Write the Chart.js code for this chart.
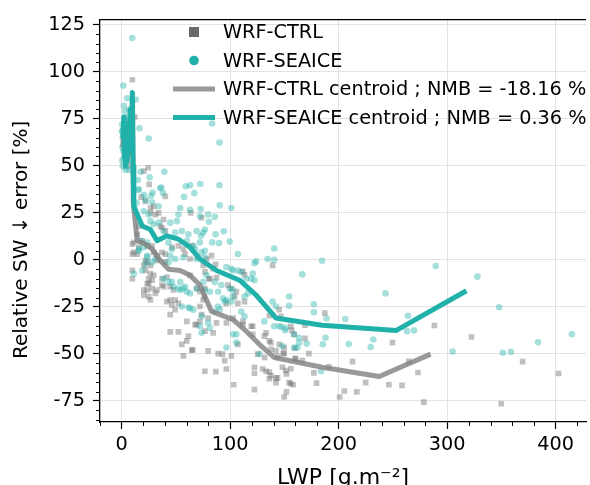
<!DOCTYPE html>
<html>
<head>
<meta charset="utf-8">
<script src="https://cdn.jsdelivr.net/npm/chart.js@4.4.1/dist/chart.umd.min.js"></script>
<style>
  html, body { margin: 0; padding: 0; background: #fff; }
  #wrap { width: 590px; height: 485px; }
</style>
</head>
<body>
<div id="wrap"><canvas id="chart" width="590" height="485"></canvas></div>
<script>
// WRF-CTRL scatter (LWP in g.m-2, relative SW error in %)
const ctrlLwp = [9.8, 12.1, 20.4, 24.4, 25.3, 18, 40.2, 29.5, 34.1, 38.6, 63.6, 14.3, 18.9, 37.2, 40.2, 11.2, 15.8, 11.2, 9.8, 29.5,
  32.6, 21.9, 56.9, 58.4, 63, 21.9, 26.5, 26.5, 31, 35.6, 15.8, 9.8, 14.3, 23.5, 28, 37.2, 40.2, 46.3, 52.3, 64.6,
  32.6, 40.2, 20.4, 23.5, 21.9, 26.5, 9.8, 9.8, 26.5, 29.5, 24.9, 28, 24.9, 20.4, 23.5, 20.4, 24.9, 37.2, 44.7, 47.8,
  41.7, 44.7, 49.3, 41.7, 46.3, 52.3, 44.7, 49.3, 60, 69.1, 44.7, 52.3, 55.4, 60, 56.9, 65.5, 76.7, 86.8, 96.5, 79.7,
  88.9, 92.9, 101.1, 95, 103.2, 76.7, 84.3, 87.4, 96.5, 102.6, 111.7, 120.8, 75.2, 72.1, 81.3, 76.7, 63, 101.1, 105.7, 111.7,
  113.2, 120.8, 133.1, 136.1, 137.6, 142.2, 122.4, 122.4, 130, 136.1, 137.6, 142.2, 148.2, 154.3, 149.8, 122.4, 139.1, 145.2, 23.5, 28,
  32.6, 31, 26.5, 37.2, 38.6, 72.1, 61.5, 64.6, 107.1, 133.1, 136.1, 143.7, 142.2, 151.3, 155.9, 151.9, 155.9, 158, 151.9, 131.8,
  149.8, 159.8, 172.6, 190.9, 177.2, 179.6, 200.9, 205.2, 216.7, 224.9, 212.8, 246.3, 249.6, 187.2, 155.9, 156.8, 168.9, 168.9, 159.8, 148.9,
  145.2, 258.4, 273.1, 264.6, 278.5, 288.3, 322.4, 349.8, 369.6, 402.7, 70, 78.3, 75.2, 84.3, 86.5, 87.4, 80.4, 69.1, 76.7, 76.1,
  72.1, 73.7, 79.7, 98, 104.1, 96.5, 107.1, 113.2, 136.1, 146.8, 111.7, 119.4, 131.5, 137.6, 149.8, 158.9, 125.4, 143.7, 160.5, 166.5,
  67.6, 73.7, 82.8, 5, 7, 3, 8];
const ctrlErr = [95.8, 76, 47.2, 49, 40.2, 33.4, 33.8, 28.5, 25, 21.5, 25, 13.6, 10.2, 17.1, 15.4, 9.3, 6.7, 4, 3.1, 4,
  2.3, -0.3, 5.8, 3.1, 0.5, 31.1, 27.6, 25, 24.1, 18, 18, 8.4, 3.1, 7.5, 7.5, 4, 3.1, 6.7, 7.5, 7.5,
  -0.3, -1.2, -2.9, -1.2, -5.6, -2.9, -5.6, -10, -7.3, -8.2, -10, -10.8, -12.6, -16, -16, -18.7, -19.5, -13.4, -14.3, -16,
  -9.1, -21.3, -21.3, -22.2, -23.9, -23.1, -29.1, -26.5, -32.7, -34.4, -38.3, -38.3, -44.9, -43.1, -51, -47.9, -59.2, -59.4, -58, -48.4,
  -49.8, -50.1, -51, -53.6, -66.4, -37.9, -38.8, -33.5, -33.5, -30.9, -32.7, -35.3, -21.3, -16.9, -10, -6.4, -8.2, -15.2, -16.9, -6.1,
  -7.9, -39.6, -38.8, -43.1, -47.5, -48.4, -57.1, -60.3, -58, -59.7, -61.5, -62.9, -57.1, -65.3, -72.9, -69, -2.9, -26.5, -12.6, -15.2,
  -16, -17.8, -21.3, -10, -14.3, -32.7, -40.5, -48, -44.9, -59.2, -63.2, -62.7, -65.3, -58.8, -57.9, -60.6, -65.8, -66.4, -70.2, -51.9,
  -49.8, -52.4, -49.8, -56.8, -60.1, -65.5, -72.9, -69.7, -70.2, -65.3, -54.1, -66.4, -44, -28.3, -35.3, -37.5, -34.7, -41.7, -47, -49.6,
  -44.9, -66.7, -59.9, -54, -75.6, -34.9, -41, -76.5, -54.1, -60.4, 1.4, 0.5, -2.9, -4.7, -2.4, -9.4, -10, -15.2, -15.2, -19.5,
  -24.8, -29.1, -30.9, -13.4, -19.5, -23.1, -23.1, -22.2, -29.7, -30, -34.4, -35.3, -40.5, -44, -46.6, -39.6, -50.1, -51.4, -52.7, -53.6,
  -34.4, 22.4, 2.3, 62, 70, 55, 50];

// WRF-SEAICE scatter
const seaLwp = [9.8, 1.5, 3, 16.4, 24.9, 83.4, 90.1, 39.3, 14.9, 15.2, 36.5, 59.1, 63, 72.4, 90.1, 67, 57.5, 28.6, 27.1, 38.1,
  21.9, 2.7, 3.7, 0.9, 12.8, 0.3, 0.6, 0.6, 3.7, 17.4, 25.8, 35.6, 15.8, 20.4, 13.7, 28, 34.1, 20.4, 24.9, 53.9,
  52.3, 63, 72.1, 79.7, 26.5, 29.5, 34.1, 44.7, 50.9, 38.6, 49.3, 55.4, 61.5, 69.1, 75.2, 17.4, 23.5, 43.2, 46.3, 60,
  66, 72.1, 76.7, 15.8, 23.5, 44.7, 49.3, 56.9, 69.1, 90.4, 101.1, 72.8, 85.8, 80.4, 76.7, 73.1, 86.5, 94.1, 83.4, 89.8,
  99.5, 107.1, 140.6, 67.6, 73.7, 76.7, 123.9, 134.5, 140.6, 96.5, 102.6, 110.2, 120.8, 119.4, 85.8, 91.9, 99.5, 78.3, 75.2, 69.1,
  76.7, 81.3, 93.4, 95, 102.6, 88.9, 79.7, 81.3, 102.6, 105.7, 96.5, 66, 61.5, 55.4, 60, 63, 52.3, 56.9, 46.3, 53.9,
  38.6, 43.2, 11.2, 18.9, 21.9, 23.5, 28, 31, 15.8, 20.4, 126.9, 105.7, 140.6, 145.2, 131.5, 148.2, 142.2, 122.4, 101.1, 107.1,
  122.4, 114.8, 166.5, 88.9, 102.6, 96.5, 101.1, 113.2, 116.3, 139.1, 154.3, 154.3, 110.2, 113.2, 147.3, 151.3, 158.9, 163.5, 158.9, 73.7,
  72.1, 85.8, 90.4, 184.7, 177.2, 177.2, 188.8, 206.1, 243.2, 263.9, 263, 269.4, 232, 229.5, 209.4, 187.9, 185.4, 170.5, 163.5, 161.9,
  150.7, 183.8, 289.5, 327.9, 347.9, 305, 351.3, 358.9, 383.8, 414.9, 47.8, 53.9, 58.4, 63, 73.7, 43.2,
  0.5, 1, 1.5, 2, 2.5, 3, 4, 4, 5, 6, 7, 8, 1, 2, 9, 5, 7, 6];
const seaErr = [118, 92.7, 79, 70, 64.5, 72.5, 62.4, 46.9, 42.5, 37.2, 38.5, 39.2, 39.7, 40.4, 39.7, 35.5, 33.5, 35.8, 34.1, 35.5,
  32, 75.7, 47.8, 68.7, 85.3, 68.3, 60, 52.9, 49.5, 46.9, 43.9, 38.1, 37.6, 34.6, 30.2, 30.6, 28.5, 25.9, 24.1, 27.6,
  24.1, 26.7, 23.3, 24.1, 20.6, 18.9, 19.8, 19.8, 20.6, 15.4, 14.5, 15.4, 13.6, 15.4, 14.5, 10.2, 9.3, 9.3, 5.8, 10.2,
  7.5, 9.3, 4.9, 4.9, 2.3, 2.3, 0.5, 1.4, 0.5, 29, 27.6, 27.1, 22.9, 20.3, 16.2, 12.8, 13.6, 15.2, 9.3, 8.9,
  9.8, 3.1, 6.1, 5.8, 4, 1.4, -0.8, 0.5, 0, -3.8, -5.6, -6.4, -7.3, -10, -11.7, -13.4, -15.2, -8.2, -11.7, -15.2,
  -16, -16.9, -20.4, -22.2, -19.5, -24.8, -33.5, -36.2, -39.6, -39.6, -46.6, -26.5, -25.3, -24.8, -16.9, -17.8, -15.2, -15.2, -11.7, -11.7,
  -10, -11.7, -7.3, -5.6, -2.1, 1.4, -1.2, 0.5, 5.8, 6.7, -50.1, -44, -35.3, -35.3, -32.7, -45.8, -24.8, -1.7, -4.7, -5.6,
  -10.8, -10, -7.7, -16.9, -16, -21.3, -22.2, -19.5, -17.8, -22.2, -19.5, -24.4, -27.4, -30, -35.6, -36.2, -39.6, -41.4, -46.6, -38.8,
  -35.3, -27.4, -26.5, -0.5, -23.6, -27.9, -31.2, -31.4, -17.8, -29.7, -37.9, -37.5, -42.3, -46.3, -44.7, -41.4, -44.9, -44.5, -44, -46.6,
  -37.4, -59.2, -3.3, -8.9, -25.2, -48.7, -49.4, -48.9, -43.8, -39.5, -14.3, -16, -14.3, -25.7, -30, -1.2,
  72, 65, 58, 82, 68, 62, 56, 74, 66, 58, 80, 70, 50, 54, 64, 86, 48, 76];

// centroid curves
const ctrlCentLwp = [1, 2, 3, 4, 5, 6, 7, 8, 9, 10, 10.7, 14.3, 21.9, 28, 35.6, 43.2, 53.9, 63, 72.1, 82.8,
  102.6, 114.8, 126.9, 140.6, 184.7, 237.4, 284.7];
const ctrlCentErr = [60, 72, 55, 68, 52, 70, 56, 78, 62, 85, 30, 10.2, 8.4, 5.8, -0.3, -5, -5.6, -8.2, -13.4, -27.4,
  -31.8, -37.9, -44.9, -51.9, -57.1, -62, -50.1];
const seaCentLwp = [1, 2, 2.5, 3, 3.5, 4, 5, 6, 7, 8, 9, 9.8, 10.5, 11.2, 18.9, 26.5, 32.6, 41.7, 52.3, 63,
  72.1, 87.4, 108.7, 123.9, 142.2, 184.7, 253.2, 317.8];
const seaCentErr = [65, 76, 55, 70, 50, 62, 52, 73, 58, 80, 60, 89, 50, 28.5, 18, 16.2, 10.2, 12.8, 11, 6.7,
  0.5, -5.6, -10.8, -18.7, -30.9, -34.7, -37.5, -16.4];

const xTicks = [0, 100, 200, 300, 400];
const yTicks = [-75, -50, -25, 0, 25, 50, 75, 100, 125];

const teal = 'rgb(32,178,170)';
const font = 'DejaVu Sans';

const toPoints = (xs, ys) => xs.map((x, i) => ({ x: x, y: ys[i] }));

// matplotlib-like minor ticks + top spine
const minorTicks = {
  id: 'minorTicks',
  afterDraw(chart) {
    const { ctx, chartArea } = chart;
    const xs = chart.scales.x, ys = chart.scales.y;
    ctx.save();
    ctx.strokeStyle = '#000';
    ctx.lineWidth = 1;
    ctx.beginPath();
    for (let v = -20; v <= xs.max; v += 20) {
      if (v % 100 === 0) continue;
      const px = Math.round(xs.getPixelForValue(v)) + 0.5;
      ctx.moveTo(px, chartArea.bottom);
      ctx.lineTo(px, chartArea.bottom + 4);
    }
    for (let v = -85; v <= ys.max; v += 5) {
      if (v % 25 === 0) continue;
      const py = Math.round(ys.getPixelForValue(v)) + 0.5;
      ctx.moveTo(chartArea.left, py);
      ctx.lineTo(chartArea.left - 4, py);
    }
    ctx.stroke();
    ctx.lineWidth = 1.3;
    ctx.beginPath();
    ctx.moveTo(chartArea.left, chartArea.top);
    ctx.lineTo(chartArea.right, chartArea.top);
    ctx.stroke();
    ctx.restore();
  }
};

// legend drawn inside the axes, no frame
const innerLegend = {
  id: 'innerLegend',
  afterDraw(chart) {
    const ctx = chart.ctx;
    const ds = chart.data.datasets;
    const rows = [ds[3], ds[2], ds[1], ds[0]];
    const x0 = 173, textX = 223, y0 = 32, step = 28.5;
    ctx.save();
    ctx.font = '19.3px "' + font + '"';
    ctx.textBaseline = 'middle';
    ctx.fillStyle = '#000';
    rows.forEach((d, i) => {
      const y = y0 + i * step;
      if (d.showLine) {
        ctx.strokeStyle = d.borderColor;
        ctx.lineWidth = 5;
        ctx.beginPath();
        ctx.moveTo(x0, y);
        ctx.lineTo(x0 + 42, y);
        ctx.stroke();
      } else if (d.pointStyle === 'rect') {
        ctx.fillStyle = 'rgb(105,105,105)';
        ctx.fillRect(189, y - 5, 10, 10);
      } else {
        ctx.fillStyle = teal;
        ctx.beginPath();
        ctx.arc(194, y, 4.8, 0, Math.PI * 2);
        ctx.fill();
      }
      ctx.fillStyle = '#000';
      ctx.fillText(d.label, textX, y + 1);
    });
    ctx.restore();
  }
};

const ctx = document.getElementById('chart').getContext('2d');
new Chart(ctx, {
  type: 'scatter',
  data: {
    datasets: [
      {
        label: 'WRF-SEAICE centroid ; NMB = 0.36 %',
        data: toPoints(seaCentLwp, seaCentErr),
        showLine: true,
        borderColor: teal,
        borderWidth: 5,
        borderJoinStyle: 'round',
        pointRadius: 0,
        order: 1
      },
      {
        label: 'WRF-CTRL centroid ; NMB = -18.16 %',
        data: toPoints(ctrlCentLwp, ctrlCentErr),
        showLine: true,
        borderColor: 'rgba(128,128,128,0.8)',
        borderWidth: 5,
        borderJoinStyle: 'round',
        pointRadius: 0,
        order: 2
      },
      {
        label: 'WRF-SEAICE',
        data: toPoints(seaLwp, seaErr),
        pointStyle: 'circle',
        pointRadius: 3.3,
        borderWidth: 0,
        backgroundColor: 'rgba(32,178,170,0.4)',
        order: 3
      },
      {
        label: 'WRF-CTRL',
        data: toPoints(ctrlLwp, ctrlErr),
        pointStyle: 'rect',
        pointRadius: 4,
        borderWidth: 0,
        backgroundColor: 'rgba(105,105,105,0.42)',
        order: 4
      }
    ]
  },
  options: {
    responsive: false,
    animation: false,
    layout: { padding: { top: 14, right: 1, left: 0, bottom: 0 } },
    plugins: {
      legend: { display: false },
      tooltip: { enabled: false }
    },
    scales: {
      x: {
        type: 'linear',
        min: -20,
        max: 428,
        afterBuildTicks: (s) => { s.ticks = xTicks.map((v) => ({ value: v })); },
        afterFit: (s) => { s.height = 63; },
        grid: { color: '#e3e3e3', tickColor: '#000', tickLength: 7, tickWidth: 1.2 },
        border: { color: '#000', width: 1.3 },
        ticks: { color: '#000', font: { family: font, size: 19.3 }, padding: 4, maxRotation: 0, autoSkip: false },
        title: { display: true, text: 'LWP [g.m\u207B\u00B2]', color: '#000', font: { family: font, size: 22 }, padding: { top: 0, bottom: -6 } }
      },
      y: {
        type: 'linear',
        min: -86.2,
        max: 127.8,
        afterBuildTicks: (s) => { s.ticks = yTicks.map((v) => ({ value: v })); },
        afterFit: (s) => { s.width = 100; },
        grid: { color: '#e3e3e3', tickColor: '#000', tickLength: 7, tickWidth: 1.2 },
        border: { color: '#000', width: 1.3 },
        ticks: { color: '#000', font: { family: font, size: 19.3 }, padding: 8 },
        title: { display: true, text: 'Relative SW \u2193 error [%]      ', color: '#000', font: { family: font, size: 20 }, padding: { top: 10, bottom: 0 } }
      }
    }
  },
  plugins: [minorTicks, innerLegend]
});
</script>
</body>
</html>
